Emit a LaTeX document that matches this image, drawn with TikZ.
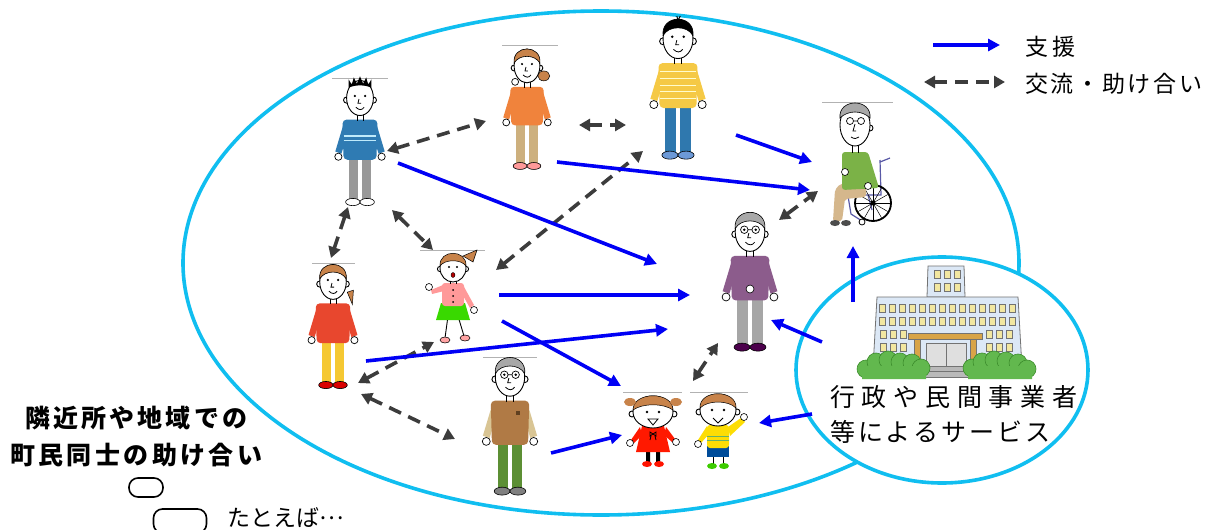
\documentclass[tikz,border=0pt]{standalone}
\usepackage{fontspec}
\usetikzlibrary{arrows.meta}
\newfontfamily\jp{Noto Sans CJK JP}

\definecolor{ringcyan}{HTML}{10BEF0}
\definecolor{supportblue}{HTML}{0000F5}
\definecolor{mutualgray}{HTML}{3C3C3C}
\definecolor{hairbrown}{HTML}{C8834A}
\definecolor{hairgray}{HTML}{A8A8A8}
\definecolor{bldg}{HTML}{DCE8F6}
\definecolor{winyel}{HTML}{F2E7A0}
\definecolor{gatebrown}{HTML}{D8A448}
\definecolor{bush}{HTML}{62B84E}
\definecolor{bushdark}{HTML}{3C8C2C}
\definecolor{steelshirt}{HTML}{2F7BB3}
\definecolor{orangeshirt}{HTML}{F0833C}
\definecolor{tantrousers}{HTML}{CDB07E}
\definecolor{yellowshirt}{HTML}{F5C945}
\definecolor{jeans}{HTML}{2F78AE}
\definecolor{purplecard}{HTML}{8C5C8C}
\definecolor{redshirt}{HTML}{E8472E}
\definecolor{yellowpants}{HTML}{F5C832}
\definecolor{vest}{HTML}{B07A45}
\definecolor{sleevetan}{HTML}{D9C594}
\definecolor{greenpants}{HTML}{5C8F34}
\definecolor{greenjumper}{HTML}{7BB247}
\definecolor{laptan}{HTML}{D5B78C}

% spread the characters of #2 evenly over the width #1
\makeatletter
\newcommand\spreadto[2]{\makebox[#1][l]{\sp@first#2\relax}}
\def\sp@first#1{#1\sp@next}
\def\sp@next#1{\ifx#1\relax\else\hfill#1\expandafter\sp@next\fi}
\makeatother

\tikzset{
  ring/.style={draw=ringcyan,line width=3.6pt},
  support/.style={draw=supportblue,line width=3.6pt,-{Triangle[length=12pt,width=12pt]}},
  mutual/.style={draw=mutualgray,line width=3.6pt,dash pattern=on 13pt off 8pt,
    {Triangle[length=11pt,width=12pt]}-{Triangle[length=11pt,width=12pt]}},
  label/.style={inner sep=0pt,anchor=west},
  outline/.style={draw=black,line width=.9pt},
  topline/.style={draw=black!30,line width=.6pt}
}

% standing adult: x, y (head centre), scale, shirt, sleeves, trousers, shoes, extras
\newcommand{\adult}[8]{%
\begin{scope}[shift={(#1,#2)},scale=#3]
  \fill[#6] (-11,58) rectangle (-2,99);
  \fill[#6] (2,58) rectangle (11,99);
  \filldraw[fill=#7,draw=black,line width=.6pt] (-7,101) ellipse (7 and 3.5);
  \filldraw[fill=#7,draw=black,line width=.6pt] (7,101) ellipse (7 and 3.5);
  \fill[#5] (-15,22) -- (-24,52) -- (-18,54) -- (-12,34) -- cycle;
  \fill[#5] (15,22) -- (24,52) -- (18,54) -- (12,34) -- cycle;
  \fill[#4,rounded corners=4pt] (-17,21) -- (17,21) -- (16,60) -- (-16,60) -- cycle;
  \filldraw[fill=white,draw=black,line width=.7pt] (-21,57) circle (3.5) (21,57) circle (3.5);
  \draw[line width=.8pt] (-3,15) -- (-3,22) (3,15) -- (3,22);
  \filldraw[fill=white,outline] (-13,2) circle (3) (13,2) circle (3);
  \filldraw[fill=white,outline] (0,0) ellipse (13 and 17);
  \fill (-5,-2) circle (1.2) (5,-2) circle (1.2);
  \draw[line width=.8pt] (-1,1) -- (-2,5) -- (1,5);
  \draw[line width=.8pt] (-4,9) .. controls (-1,12) and (2,12) .. (4,9);
  #8
\end{scope}}

% hair cap on a head of half width 13 and half height 17
\newcommand{\haircap}[1]{\filldraw[fill=#1,draw=black,line width=.6pt]
  (-13,-3) .. controls (-15,-22) and (15,-22) .. (13,-3)
  .. controls (8,-12) and (-8,-12) .. cycle;}
\newcommand{\specs}{\draw[line width=.7pt] (-5,-2) circle (3.3) (5,-2) circle (3.3) (-1.7,-2) -- (1.7,-2);}

\begin{document}
\begin{tikzpicture}[x=1pt,y=-1pt]
\useasboundingbox (0,0) rectangle (1211,530);
\fill[white] (0,0) rectangle (1211,530);

% the neighbourhood
\coordinate (town) at (601,263);
\draw[ring] (town) ellipse (418 and 252);

% frame edges above the figures
\draw[topline] (332,78) -- (388,78);
\draw[topline] (502,45) -- (558,45);
\draw[topline] (822,102) -- (893,102);
\draw[topline] (312,263) -- (355,263);
\draw[topline] (420,250) -- (485,250);
\draw[topline] (483,357) -- (537,357);
\draw[topline] (623,392) -- (682,392);
\draw[topline] (690,392) -- (748,392);

% young man, blue jumper
\adult{360}{98}{1.03}{steelshirt}{steelshirt}{gray!80}{white}{%
  \fill (-11,-10) -- (-11,-18) -- (-8,-13) -- (-6,-20) -- (-3,-14) -- (0,-21) -- (3,-14)
    -- (6,-20) -- (8,-13) -- (11,-18) -- (11,-10) .. controls (5,-13) and (-5,-13) .. cycle;
  \draw[white!75!cyan,line width=1.3pt] (-16,37) -- (16,37) (-16,41) -- (16,41);}

% woman, orange jumper
\adult{527}{66}{0.99}{orangeshirt}{orangeshirt}{tantrousers}{pink!80!red}{%
  \haircap{hairbrown}
  \filldraw[fill=hairbrown,draw=black,line width=.5pt] (17,10) ellipse (6 and 5);
  \filldraw[fill=white,draw=black,line width=.7pt] (-12,16) circle (3.5);}

% man, yellow striped jumper
\adult{678}{39}{1.15}{yellowshirt}{yellowshirt}{jeans}{cyan!50!blue!60!white}{%
  \haircap{black}
  \draw[line width=1pt] (0,-16) -- (-1,-20) (0,-16) -- (2,-20);
  \draw[white!80!yellow,line width=1pt] (-16,28) -- (16,28) (-16,34) -- (16,34) (-16,40) -- (16,40)
    (-16,46) -- (16,46) (-16,52) -- (16,52);}

% grandmother, purple cardigan
\adult{750}{232}{1.14}{purplecard}{purplecard}{gray!70}{violet!60!black}{%
  \haircap{hairgray}\specs
  \filldraw[fill=white,draw=black,line width=.6pt] (0,50) circle (3.5);}

% woman, red jumper
\adult{333}{282}{1.02}{redshirt}{redshirt}{yellowpants}{red!85!black}{%
  \haircap{hairbrown}
  \filldraw[fill=hairbrown,draw=black,line width=.5pt] (14,10) -- (20,8) -- (19,22) -- cycle;}

% elderly man, brown waistcoat
\adult{510}{377}{1.13}{vest}{sleevetan}{greenpants}{gray}{%
  \haircap{hairgray}\specs
  \fill[brown!50!black] (5,30) rectangle (9,34);}

% girl, pink cardigan and green skirt
\begin{scope}[shift={(453,268)}]
  \draw[line width=.9pt] (-5,48) -- (-8,70) (5,48) -- (11,68);
  \filldraw[fill=pink!85!red,draw=black,line width=.5pt] (-8,72) ellipse (5 and 3) (12,70) ellipse (5 and 3);
  \fill[green!65!lime!85!black] (-12,35) -- (12,35) -- (17,52) -- (-17,52) -- cycle;
  \fill[pink!80!red,rounded corners=3pt] (-11,15) rectangle (11,38);
  \fill[pink!80!red] (-10,17) -- (-22,22) -- (-21,26) -- (-9,23) -- cycle;
  \fill[pink!80!red] (10,17) -- (21,37) -- (17,40) -- (8,24) -- cycle;
  \filldraw[fill=white,draw=black,line width=.6pt] (-24,19) circle (3.5) (21,42) circle (3.5);
  \fill[black] (0,22) circle (1) (0,28) circle (1) (0,34) circle (1);
  \draw[line width=.8pt] (-3,12) -- (-3,16) (3,12) -- (3,16);
  \filldraw[fill=white,outline] (-13,1) circle (2.6) (13,1) circle (2.6);
  \filldraw[fill=white,outline] (0,0) ellipse (13 and 14);
  \filldraw[fill=hairbrown,draw=black,line width=.5pt] (-13,-2) .. controls (-14,-19) and (14,-19) .. (13,-2)
    .. controls (8,-9) and (-8,-9) .. cycle;
  \filldraw[fill=hairbrown,draw=black,line width=.5pt] (10,-12) -- (24,-18) -- (20,-6) -- cycle;
  \fill (-4,-1) circle (1.1) (4,-1) circle (1.1);
  \filldraw[fill=red!70!black] (0,7) ellipse (2 and 2.5);
\end{scope}

% little girl, red dress
\begin{scope}[shift={(653,412)}]
  \fill[black] (-7,38) rectangle (-3,50) (3,38) rectangle (7,50);
  \fill[red!85!orange] (-6,52) ellipse (5 and 3) (6,52) ellipse (5 and 3);
  \fill[red!80!orange] (-13,15) -- (-22,28) -- (-19,31) -- (-11,23) -- cycle;
  \fill[red!80!orange] (13,15) -- (22,27) -- (19,30) -- (11,23) -- cycle;
  \fill[red!80!orange] (-11,14) -- (11,14) -- (17,40) -- (-17,40) -- cycle;
  \filldraw[fill=white,draw=black,line width=.6pt] (-23,31) circle (3.5) (23,30) circle (3.5);
  \draw[line width=.8pt] (-3,20) -- (3,24) -- (3,20) -- (-3,24) -- cycle (-2,24) -- (-3,28) (2,24) -- (3,28);
  \filldraw[fill=white,outline] (-21,2) circle (3) (21,2) circle (3);
  \filldraw[fill=white,outline] (0,0) ellipse (20 and 16);
  \filldraw[fill=hairbrown,draw=black,line width=.5pt] (-20,-2) .. controls (-20,-21) and (20,-21) .. (20,-2)
    .. controls (10,-9) and (-10,-9) .. cycle;
  \fill[hairbrown] (-23,-10) ellipse (6 and 4) (23,-10) ellipse (6 and 4);
  \fill (-6,0) circle (1.3) (6,0) circle (1.3);
  \filldraw[fill=white,draw=black,line width=.8pt] (-5,7) -- (5,7) -- (0,13) -- cycle;
\end{scope}

% little boy, yellow shirt
\begin{scope}[shift={(718,410)}]
  \draw[line width=.9pt] (-5,46) -- (-5,55) (5,46) -- (5,55);
  \fill[green!60!lime!80!black] (-6,56) ellipse (5 and 3) (6,56) ellipse (5 and 3);
  \fill[blue!50!cyan!60!black] (-11,36) rectangle (11,47);
  \fill[yellow!80!orange] (-11,16) -- (-20,30) -- (-17,33) -- (-9,24) -- cycle;
  \fill[yellow!80!orange] (10,17) -- (23,8) -- (27,12) -- (12,26) -- cycle;
  \fill[yellow!80!orange,rounded corners=3pt] (-11,15) rectangle (11,38);
  \draw[green!50!black!60!white,line width=1pt] (-11,26) -- (11,26) (-11,30) -- (11,30);
  \filldraw[fill=white,draw=black,line width=.6pt] (-20,34) circle (3.5) (26,7) circle (3.5);
  \filldraw[fill=white,outline] (-19,2) circle (3) (19,2) circle (3);
  \filldraw[fill=white,outline] (0,0) ellipse (18 and 16);
  \filldraw[fill=hairbrown,draw=black,line width=.5pt] (-18,-2) .. controls (-19,-21) and (19,-21) .. (18,-2)
    .. controls (10,-10) and (-10,-10) .. cycle;
  \fill (-6,0) circle (1.3) (6,0) circle (1.3);
  \draw[line width=.8pt] (-5,8) -- (0,13) -- (5,8);
\end{scope}

% elderly man in a wheelchair
\begin{scope}
  \draw[blue!30!gray,line width=1.2pt] (880,160) -- (881,195) -- (845,195) (880,162) -- (890,158)
    (848,196) -- (851,214) -- (862,221) (868,195) -- (872,210);
  \draw[black,line width=1.8pt] (873,203) circle (18);
  \foreach \a in {0,30,...,330} \draw[black,line width=.5pt] (873,203) -- ++(\a:17);
  \fill[black] (873,203) circle (2.5);
  \filldraw[fill=white,draw=black,line width=.8pt] (862,222) circle (3);
  \fill[laptan,rounded corners=2pt] (866,183) -- (866,197) -- (845,199) -- (842,221) -- (833,221)
    -- (835,190) -- (840,184) -- cycle;
  \fill[black!70] (835,223) ellipse (5 and 3) (846,223) ellipse (5 and 3);
  \fill[greenjumper,rounded corners=3pt] (842,152) -- (868,152) -- (879,188) -- (842,190) -- cycle;
  \filldraw[fill=white,draw=black,line width=.6pt] (845,172) circle (3.5) (868,186) circle (3.5);
  \draw[line width=.8pt] (852,145) -- (852,153) (858,145) -- (858,153);
  \filldraw[fill=white,outline] (870,128) circle (3);
  \filldraw[fill=white,outline] (855,125) ellipse (15 and 21);
  \filldraw[fill=hairgray,draw=black,line width=.6pt] (840,118) .. controls (838,98) and (872,98) .. (870,118)
    .. controls (862,110) and (848,110) .. cycle;
  \draw[line width=.7pt] (850,121) circle (3.5) (861,121) circle (3.5) (853.5,121) -- (857.5,121);
  \draw[line width=.8pt] (855,124) -- (853,131) -- (856,131) (851,137) .. controls (854,139) and (857,139) .. (859,137);
\end{scope}

% mutual support between neighbours
\coordinate (d1a) at (387,151); \coordinate (d1b) at (486,121);
\coordinate (d2a) at (579,125); \coordinate (d2b) at (626,125);
\coordinate (d3a) at (348,207); \coordinate (d3b) at (331,258);
\coordinate (d4a) at (392,210); \coordinate (d4b) at (433,250);
\coordinate (d5a) at (496,270); \coordinate (d5b) at (643,151);
\coordinate (d6a) at (358,383); \coordinate (d6b) at (434,342);
\coordinate (d7a) at (361,394); \coordinate (d7b) at (455,439);
\coordinate (d8a) at (693,381); \coordinate (d8b) at (718,343);
\coordinate (d9a) at (779,220); \coordinate (d9b) at (818,191);
\foreach \p in {1,...,9} \draw[mutual] (d\p a) -- (d\p b);

% support given
\coordinate (b1s) at (398,163); \coordinate (b1e) at (657,264);
\coordinate (b2s) at (557,162); \coordinate (b2e) at (810,190);
\coordinate (b3s) at (736,135); \coordinate (b3e) at (812,162);
\coordinate (b4s) at (499,295); \coordinate (b4e) at (690,295);
\coordinate (b5s) at (502,321); \coordinate (b5e) at (621,386);
\coordinate (b6s) at (366,361); \coordinate (b6e) at (668,329);
\coordinate (b7s) at (551,453); \coordinate (b7e) at (622,435);
\foreach \p in {1,...,7} \draw[support] (b\p s) -- (b\p e);

% public and private services
\coordinate (svc) at (942,370);
\filldraw[fill=white,ring] (svc) ellipse (146 and 113);

% town hall
\begin{scope}[draw=black!55,line width=.8pt]
  \filldraw[fill=bldg] (928,266) -- (964,266) -- (965,297) -- (927,297) -- cycle;
  \filldraw[fill=bldg] (877,297) -- (1018,297) -- (1022,368) -- (873,368) -- cycle;
  \foreach \y in {308,321} \foreach \i in {0,...,13}
    \filldraw[fill=winyel,line width=.5pt] (879+\i*10,\y-4) rectangle ++(6,8);
  \foreach \y in {334,347} \foreach \x in {880,890,900,986,996,1006}
    \filldraw[fill=winyel,line width=.5pt] (\x,\y-4) rectangle ++(6,8);
  \foreach \y in {274,287} \foreach \x in {934,944,954}
    \filldraw[fill=winyel,line width=.5pt] (\x,\y-4) rectangle ++(6,8);
  \filldraw[fill=gray!25] (926,343) rectangle (966,366);
  \draw (946,343) -- (946,366);
  \filldraw[fill=gatebrown] (908,333) rectangle (982,339);
  \filldraw[fill=gatebrown] (914,339) rectangle (920,366) (970,339) rectangle (976,366);
  \filldraw[fill=gray!55] (920,366) rectangle (972,377);
  \draw (920,371) -- (972,371);
\end{scope}
\foreach \c in {(866,369),(876,362),(888,360),(900,362),(912,363),(921,368),
                (972,368),(982,362),(994,360),(1006,361),(1018,363),(1027,369)}
  \filldraw[fill=bush,draw=bushdark,line width=.6pt] \c circle (9);
\fill[bush] (862,366) rectangle (926,379) (968,366) rectangle (1032,379);

% support from services
\coordinate (b8s) at (853,302); \coordinate (b8e) at (853,246);
\coordinate (b9s) at (822,342); \coordinate (b9e) at (771,320);
\coordinate (b10s) at (812,414); \coordinate (b10e) at (759,423);
\foreach \p in {8,9,10} \draw[support] (b\p s) -- (b\p e);

% service caption
\node[label] (svc1) at (830,397) {\jp\fontsize{25}{28}\selectfont\spreadto{247pt}{行政や民間事業者}};
\node[label] (svc2) at (830,432) {\jp\fontsize{25}{28}\selectfont\spreadto{220pt}{等によるサービス}};

% neighbourhood caption
\node[label] (nb1) at (25,418) {\jp\bfseries\fontsize{25}{28}\selectfont\spreadto{222pt}{隣近所や地域での}};
\node[label] (nb2) at (10,455) {\jp\bfseries\fontsize{25}{28}\selectfont\spreadto{252pt}{町民同士の助け合い}};
\draw[line width=1.6pt,rounded corners=9pt] (129,478) rectangle (163,497);
\node[draw,line width=1.6pt,rounded corners=9pt,minimum width=53pt,minimum height=24pt,inner sep=0pt]
  (tag) at (180,521) {};
\node[label] (eg) at (227,518) {\jp\fontsize{23}{26}\selectfont たとえば\raisebox{.33em}{…}};

% legend
\coordinate (lga) at (933,45); \coordinate (lgb) at (1000,45);
\coordinate (lgc) at (924,82); \coordinate (lgd) at (1005,82);
\draw[support] (lga) -- (lgb);
\draw[mutual] (lgc) -- (lgd);
\node[label] (lg1) at (1025,47) {\jp\fontsize{23}{28}\selectfont\spreadto{50pt}{支援}};
\node[label] (lg2) at (1025,84) {\jp\fontsize{23}{28}\selectfont\spreadto{177pt}{交流・助け合い}};
\end{tikzpicture}
\end{document}
